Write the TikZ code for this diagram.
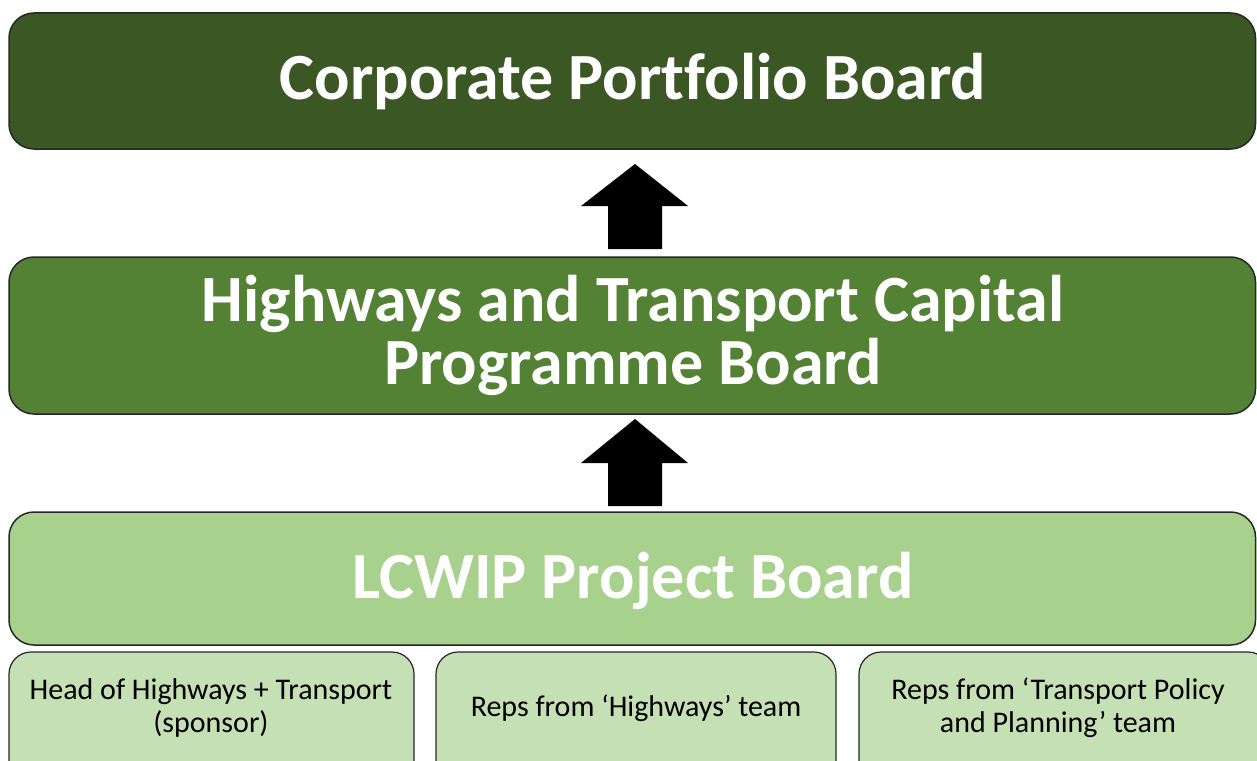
\documentclass[tikz,border=0pt]{standalone}
\usepackage{fontspec}
\setmainfont[Ligatures=NoCommon]{Carlito}
\definecolor{dkgreen}{HTML}{3A5724}
\definecolor{mdgreen}{HTML}{548235}
\definecolor{ltgreen}{HTML}{A9D18E}
\definecolor{pagreen}{HTML}{C5E0B4}
\definecolor{edge}{HTML}{262626}
\tikzset{
  board/.style={draw=edge, line width=1.5pt, rounded corners=25pt},
  member/.style={draw=edge, line width=1.2pt, rounded corners=22pt, fill=pagreen},
  bigtxt/.style={text=white, font=\bfseries\fontsize{66}{63}\selectfont, align=center},
  smalltxt/.style={text=black, font=\fontsize{30}{33}\selectfont, align=center},
  uparrow/.style={fill=black, draw=none}
}
\begin{document}
\begin{tikzpicture}[x=1pt,y=-1pt]
\useasboundingbox (0,0) rectangle (1257,760);
\clip (0,0) rectangle (1257,760);
% boxes
\draw[board, fill=dkgreen] (9,13) rectangle (1255.5,149);
\node[bigtxt] (t1) at (633,82) {Corporate Portfolio Board};
\draw[board, fill=mdgreen] (9,257) rectangle (1255.5,414);
\node[bigtxt] (t2) at (633,335) {Highways and Transport Capital\\Programme Board};
\draw[board, fill=ltgreen] (9,512) rectangle (1255.5,645);
\node[bigtxt] (t3) at (633,581) {LCWIP Project Board};
% members
\draw[member] (9,652) rectangle (414,790);
\node[smalltxt] (m1) at (211,708) {Head of Highways + Transport\\(sponsor)};
\draw[member] (436,652) rectangle (836,790);
\node[smalltxt] (m2) at (636,708) {Reps from ‘Highways’ team};
\draw[member] (859,652) rectangle (1270,790);
\node[smalltxt] (m3) at (1058,708) {Reps from ‘Transport Policy\\and Planning’ team};
% arrows
\fill[uparrow] (635,164) -- (688,206) -- (662,206) -- (662,249) -- (608,249) -- (608,206) -- (581,206) -- cycle;
\fill[uparrow] (635,419) -- (688,463) -- (662,463) -- (662,506) -- (608,506) -- (608,463) -- (581,463) -- cycle;
\end{tikzpicture}
\end{document}
